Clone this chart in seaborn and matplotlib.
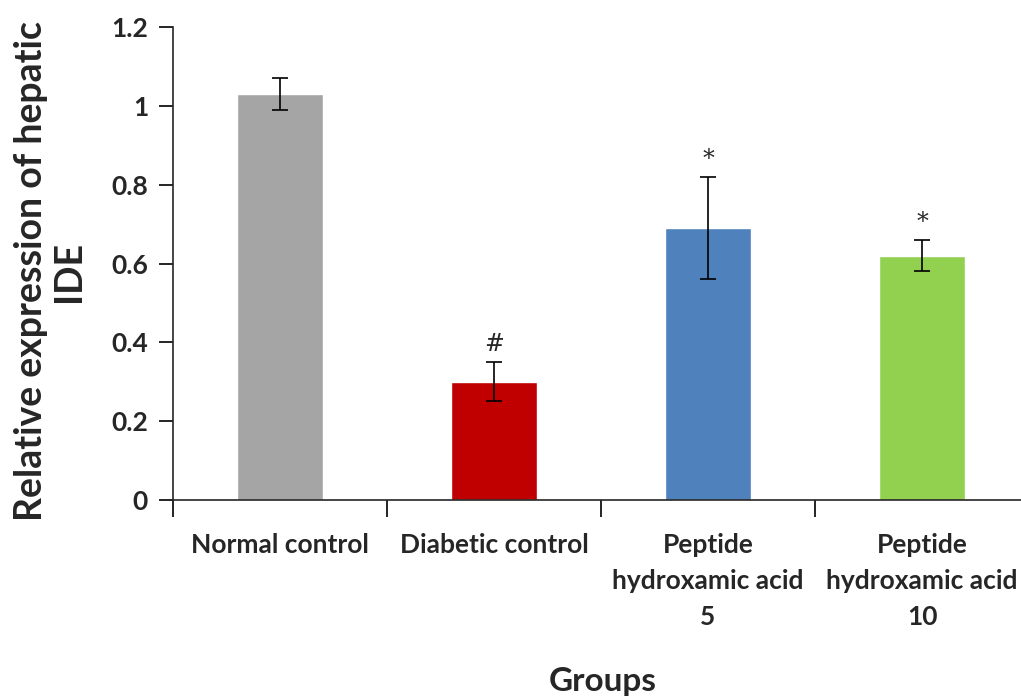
import matplotlib
matplotlib.use("Agg")
import matplotlib.pyplot as plt
import seaborn as sns
import pandas as pd

# data
groups = ["Normal control", "Diabetic control",
          "Peptide\nhydroxamic acid\n5", "Peptide\nhydroxamic acid\n10"]
means = [1.03, 0.30, 0.69, 0.62]
errors = [0.04, 0.05, 0.13, 0.04]
marks = ["", "#", "*", "*"]
colors = ["#A5A5A5", "#C00000", "#4F81BD", "#92D050"]

sns.set_style("ticks")
plt.rcParams['font.family'] = ['Lato', 'DejaVu Sans']

df = pd.DataFrame({"group": groups, "value": means})

fig = plt.figure(figsize=(10.21, 6.96), dpi=100)
ax = fig.add_axes([173 / 1021, 1 - 500 / 696, 856 / 1021, 473 / 696])

sns.barplot(data=df, x="group", y="value", hue="group", palette=colors,
            width=0.4, legend=False, ax=ax, errorbar=None, saturation=1)
ax.errorbar(range(len(groups)), means, yerr=errors, fmt="none",
            ecolor="black", elinewidth=1.2, capsize=6, capthick=1.2)

for i, (m, e, s) in enumerate(zip(means, errors, marks)):
    if s:
        ax.text(i, m + e + 0.045, s, ha="center", va="center",
                fontsize=17, family="DejaVu Serif")

ax.set_xlim(-0.5, 3.5)
ax.set_ylim(0, 1.2)
ax.set_yticks([0, 0.2, 0.4, 0.6, 0.8, 1.0, 1.2])
ax.set_yticklabels(["0", "0.2", "0.4", "0.6", "0.8", "1", "1.2"],
                   fontsize=19, fontweight="bold")
ax.set_xticks(range(len(groups)))
ax.set_xticklabels(groups, fontsize=19, fontweight="bold", linespacing=1.6)
ax.tick_params(axis="x", length=0, pad=24)
ax.set_xticks([-0.5, 0.5, 1.5, 2.5, 3.5], minor=True)
ax.tick_params(axis="x", which="minor", length=12, width=1.2, color="black")
ax.tick_params(axis="y", length=10, width=1.2, color="black", pad=8)
ax.set_xlabel("")
ax.set_ylabel("")

# axis titles placed at the reference positions
fig.text(603 / 1021, 1 - 681 / 696, "Groups", fontsize=24, fontweight="bold",
         ha="center", va="center")
fig.text(50 / 1021, 1 - 271 / 696, "Relative expression of hepatic\nIDE",
         fontsize=27, fontweight="bold", rotation=90, ha="center",
         va="center", multialignment="center", linespacing=1.15)

sns.despine(ax=ax)
ax.spines["left"].set_linewidth(1.2)
ax.spines["bottom"].set_linewidth(1.2)

fig.savefig("out.png", dpi=100)
